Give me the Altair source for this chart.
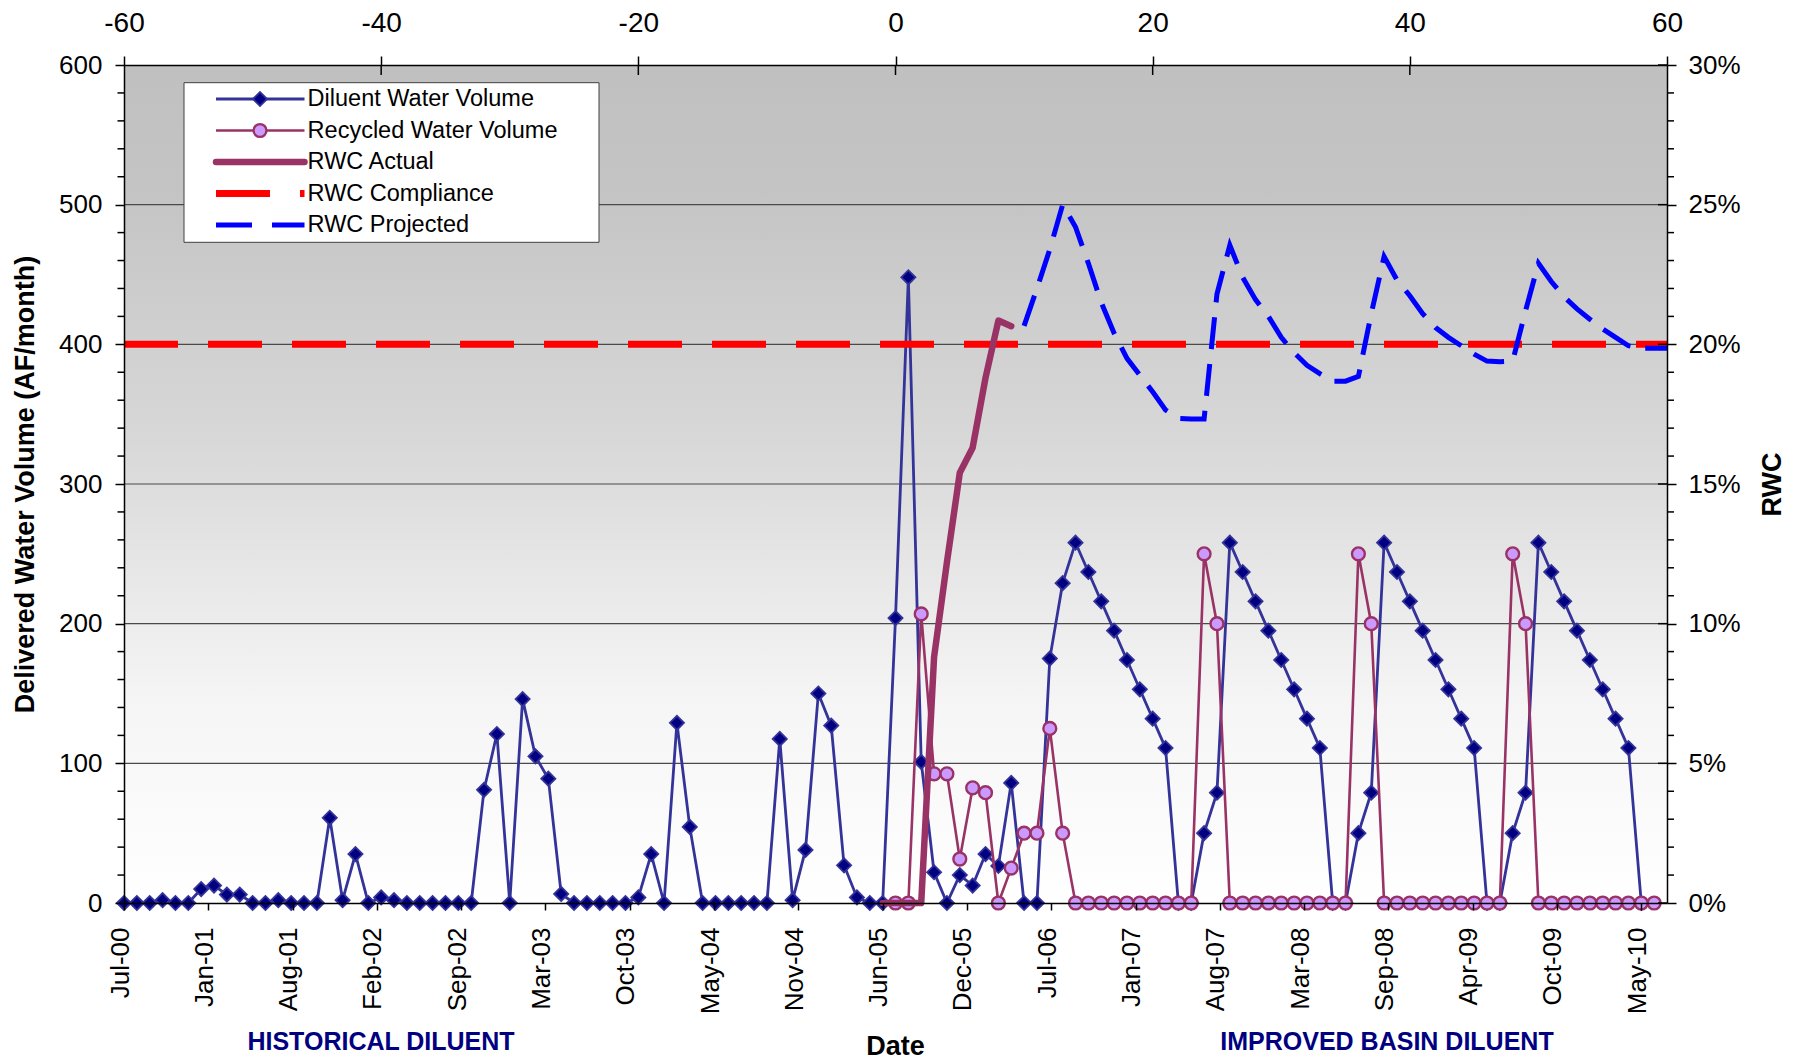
import altair as alt
import pandas as pd

FONT = "Liberation Sans"
W, H = 1543, 838

# Month index: 0 = Jul-05, one step per month (Jul-00 = -60)
diluent_months = list(range(-60, 59))
diluent_af = [
    0, 0, 0, 2, 0, 0, 10, 12.5, 6, 6,
    0, 0, 2, 0, 0, 0, 61, 2, 35, 0,
    4, 2, 0, 0, 0, 0, 0, 0, 81, 121,
    0, 146, 105, 89, 6.5, 0, 0, 0, 0, 0,
    4, 35, 0, 129, 54.5, 0, 0, 0, 0, 0,
    0, 117.5, 2, 38, 150, 127, 27, 4, 0, 0,
    204, 448, 101, 22, 0, 20, 12.5, 35, 26.5, 86,
    0, 0, 175, 229, 258, 237, 216, 195, 174, 153,
    132, 111, 0, 0, 50, 79, 258, 237, 216, 195,
    174, 153, 132, 111, 0, 0, 50, 79, 258, 237,
    216, 195, 174, 153, 132, 111, 0, 0, 50, 79,
    258, 237, 216, 195, 174, 153, 132, 111, 0,
]

recycled_months = list(range(0, 60))
recycled_af = [
    0, 0, 207, 92.5, 92.5, 31.5, 82.5, 79, 0, 25,
    50, 50, 125, 50, 0, 0, 0, 0, 0, 0,
    0, 0, 0, 0, 250, 200, 0, 0, 0, 0,
    0, 0, 0, 0, 0, 0, 250, 200, 0, 0,
    0, 0, 0, 0, 0, 0, 0, 0, 250, 200,
    0, 0, 0, 0, 0, 0, 0, 0, 0, 0,
]

actual_months = list(range(-1, 10))
rwc_actual = [0, 0, 0, 0, 8.8, 12.2, 15.4, 16.3, 18.8, 20.85, 20.65]

projected_months = list(range(10, 61))
rwc_projected = [
    20.66, 22.0, 23.4, 25.0, 24.2, 22.9, 21.5, 20.4, 19.5, 18.9,
    18.3, 17.65, 17.35, 17.33, 17.33, 21.8, 23.55, 22.4, 21.6, 21.0,
    20.25, 19.7, 19.25, 18.95, 18.68, 18.68, 18.85, 21.1, 23.14, 22.3,
    21.74, 21.1, 20.6, 20.25, 19.95, 19.65, 19.4, 19.38, 19.4, 21.2,
    22.9, 22.25, 21.7, 21.27, 20.9, 20.55, 20.25, 19.95, 19.86, 19.86, 19.86,
]

compliance_months = [-60, 60]
rwc_compliance = [20, 20]

date_labels = [
    "Jul-00", "Jan-01", "Aug-01", "Feb-02", "Sep-02", "Mar-03", "Oct-03",
    "May-04", "Nov-04", "Jun-05", "Dec-05", "Jul-06", "Jan-07", "Aug-07",
    "Mar-08", "Sep-08", "Apr-09", "Oct-09", "May-10",
]
top_ticks = list(range(-60, 61, 20))
af_ticks = list(range(0, 601, 100))
rwc_ticks = list(range(0, 31, 5))

legend_labels = [
    "Diluent Water Volume",
    "Recycled Water Volume",
    "RWC Actual",
    "RWC Compliance",
    "RWC Projected",
]
period_notes = ["HISTORICAL DILUENT", "IMPROVED BASIN DILUENT"]

# ---- tables -------------------------------------------------------------
dil_df = pd.DataFrame({"month": diluent_months, "af": diluent_af})
rec_df = pd.DataFrame({"month": recycled_months, "af": recycled_af})
act_df = pd.DataFrame({"month": actual_months, "rwc": rwc_actual})
proj_df = pd.DataFrame({"month": projected_months, "rwc": rwc_projected})
comp_df = pd.DataFrame({"month": compliance_months, "rwc": rwc_compliance})
one_df = pd.DataFrame({"k": [0]})

step = 118 / 18
date_ticks = [-60 + i * step for i in range(len(date_labels))]
label_expr = (
    "[" + ",".join(f"'{s}'" for s in date_labels) + "]"
    + f"[round((datum.value + 60) / {step!r})]"
)

# ---- scales and axes ----------------------------------------------------
xscale = alt.Scale(domain=[-60, 60], nice=False, zero=False)
af_scale = alt.Scale(domain=[0, 600], nice=False)
rwc_scale = alt.Scale(domain=[0, 30], nice=False)

common = dict(
    domainColor="black", domainWidth=1.5, tickColor="black", tickWidth=1.5,
    grid=False, labelFlush=False, labelOverlap=False, labelColor="black",
    labelFont=FONT, titleFont=FONT, titleColor="black", zindex=1,
)

bottom_axis = alt.Axis(
    orient="bottom", values=date_ticks, labelExpr=label_expr,
    labelAngle=270, labelAlign="right", labelBaseline="middle",
    labelFontSize=26, labelPadding=17, labelOffset=-4, tickSize=7,
    title="Date", titleFontSize=27, titleFontWeight="bold",
    titleX=771, titleY=151, titleBaseline="alphabetic", titleAlign="center",
    **common,
)
left_axis = alt.Axis(
    orient="left", values=af_ticks, labelFontSize=26, labelPadding=13,
    tickSize=9, title="Delivered Water Volume (AF/month)", titleFontSize=27,
    titleFontWeight="bold", titleAngle=270, titleX=-99, titleY=H / 2,
    titleAlign="center", titleBaseline="middle", **common,
)
top_axis = alt.Axis(
    orient="top", values=top_ticks, labelExpr="'' + datum.value",
    labelFontSize=28, labelPadding=25, labelBaseline="alphabetic",
    tickSize=9, title=None, **common,
)
right_axis = alt.Axis(
    orient="right", values=rwc_ticks, labelExpr="datum.value + '%'",
    labelFontSize=26, labelPadding=12, tickSize=9, title="RWC",
    titleFontSize=27, titleFontWeight="bold", titleAngle=270, titleX=105,
    titleY=H / 2, titleAlign="center", titleBaseline="middle", **common,
)

X_bottom = alt.X("month:Q", scale=xscale, axis=bottom_axis, title="Date")
X_top = alt.X("month:Q", scale=xscale, axis=top_axis)
Y_af = alt.Y("af:Q", scale=af_scale, axis=left_axis)
Y_rwc = alt.Y("rwc:Q", scale=rwc_scale, axis=right_axis)

DIAMOND = dict(shape="diamond", filled=True, fill="#000080", stroke="#333399",
               strokeWidth=1.8, size=200, opacity=1)
CIRCLE = dict(shape="circle", filled=True, fill="#cc99ff", stroke="#993366",
              strokeWidth=2.4, size=165, opacity=1)

# ---- volume layers (left axis) ------------------------------------------
shade = alt.Gradient(
    gradient="linear", x1=0, x2=0, y1=0, y2=1,
    stops=[
        alt.GradientStop(color="#c0c0c0", offset=0),
        alt.GradientStop(color="#c4c4c4", offset=0.15),
        alt.GradientStop(color="#d8d8d8", offset=0.45),
        alt.GradientStop(color="#ebebeb", offset=0.65),
        alt.GradientStop(color="#f5f5f5", offset=0.76),
        alt.GradientStop(color="#ffffff", offset=1),
    ],
)
background = alt.Chart(one_df).mark_rect(fill=shade).encode(
    x=alt.value(0), x2=alt.value(W), y=alt.value(0), y2=alt.value(H)
)

grid_df = pd.DataFrame({"af": [v for v in af_ticks if 0 < v < 600]})
gridlines = alt.Chart(grid_df).mark_rule(color="#4a4a4a", strokeWidth=1.2).encode(
    y=Y_af, x=alt.value(0), x2=alt.value(W)
)

minor_af = pd.DataFrame({"af": [v for v in range(20, 600, 20) if v % 100]})
left_minor = alt.Chart(minor_af).mark_rule(color="black", strokeWidth=1.5).encode(
    y=Y_af, x=alt.value(-6.5), x2=alt.value(0)
)

dil_line = alt.Chart(dil_df).mark_line(color="#333399", strokeWidth=2.8).encode(
    x=X_bottom, y=Y_af
)
dil_pts = alt.Chart(dil_df).mark_point(**DIAMOND).encode(x=X_bottom, y=Y_af)

rec_line = alt.Chart(rec_df).mark_line(color="#993366", strokeWidth=2.6).encode(
    x=X_bottom, y=Y_af
)
rec_pts = alt.Chart(rec_df).mark_point(**CIRCLE).encode(x=X_bottom, y=Y_af)

# period captions below the date labels
notes = [
    alt.Chart(one_df).mark_text(
        text=txt, font=FONT, fontSize=25, fontWeight="bold", color="#000080",
        align="center", baseline="alphabetic",
    ).encode(x=alt.value(px), y=alt.value(H + 147))
    for txt, px in zip(period_notes, [257, 1263])
]

volume = alt.layer(
    background, gridlines, left_minor, dil_line, dil_pts, rec_line, rec_pts, *notes
)

# ---- RWC layers (right axis) --------------------------------------------
compliance = alt.Chart(comp_df).mark_line(
    color="#ff0000", strokeWidth=7, strokeDash=[54, 30]
).encode(x=X_top, y=Y_rwc)
actual = alt.Chart(act_df).mark_line(
    color="#993366", strokeWidth=6.5, strokeCap="round", strokeJoin="round"
).encode(x=X_top, y=Y_rwc)
projected = alt.Chart(proj_df).mark_line(
    color="#0000ff", strokeWidth=5, strokeDash=[32, 15]
).encode(x=X_top, y=Y_rwc)

right_major = alt.Chart(pd.DataFrame({"rwc": rwc_ticks})).mark_rule(
    color="black", strokeWidth=1.5
).encode(y=Y_rwc, x=alt.value(W - 9), x2=alt.value(W))
right_minor = alt.Chart(
    pd.DataFrame({"rwc": [v for v in range(1, 30) if v % 5]})
).mark_rule(color="black", strokeWidth=1.5).encode(
    y=Y_rwc, x=alt.value(W), x2=alt.value(W + 7)
)
top_inner = alt.Chart(pd.DataFrame({"month": top_ticks[1:-1]})).mark_rule(
    color="black", strokeWidth=1.5
).encode(x=X_top, y=alt.value(0), y2=alt.value(10))

# legend box
LX0, LX1, LY0, LY1 = 60, 475, 17.7, 177.3
SX0, SX1, SXM, TX = 92, 180.5, 136, 183.6
rows = [34 + i * 31.5 for i in range(len(legend_labels))]

legend = [
    alt.Chart(one_df).mark_rect(fill="white", stroke="#404040", strokeWidth=1).encode(
        x=alt.value(LX0), x2=alt.value(LX1), y=alt.value(LY0), y2=alt.value(LY1)
    )
]
sym_styles = [
    dict(color="#333399", strokeWidth=2.8),
    dict(color="#993366", strokeWidth=2.6),
    dict(color="#993366", strokeWidth=6.5, strokeCap="round"),
    dict(color="#ff0000", strokeWidth=7, strokeDash=[54, 30]),
    dict(color="#0000ff", strokeWidth=5, strokeDash=[36, 20]),
]
for ry, style in zip(rows, sym_styles):
    legend.append(
        alt.Chart(one_df).mark_rule(**style).encode(
            x=alt.value(SX0), x2=alt.value(SX1), y=alt.value(ry)
        )
    )
legend.append(
    alt.Chart(one_df).mark_point(**DIAMOND).encode(x=alt.value(SXM), y=alt.value(rows[0]))
)
legend.append(
    alt.Chart(one_df).mark_point(**CIRCLE).encode(x=alt.value(SXM), y=alt.value(rows[1]))
)
for ry, txt in zip(rows, legend_labels):
    legend.append(
        alt.Chart(one_df).mark_text(
            text=txt, font=FONT, fontSize=23.5, color="black",
            align="left", baseline="middle",
        ).encode(x=alt.value(TX), y=alt.value(ry))
    )

rwc = alt.layer(compliance, actual, projected, right_major, right_minor, top_inner, *legend)

chart = (
    alt.layer(volume, rwc)
    .resolve_scale(y="independent")
    .resolve_axis(x="independent", y="independent")
    .properties(
        width=W, height=H,
        autosize=alt.AutoSizeParams(type="none"),
        padding={"left": 124, "top": 65, "right": 134, "bottom": 157},
        background="white",
    )
    .configure_view(stroke=None)
)

chart.save("out.html", embed_options={"renderer": "svg", "actions": False})
